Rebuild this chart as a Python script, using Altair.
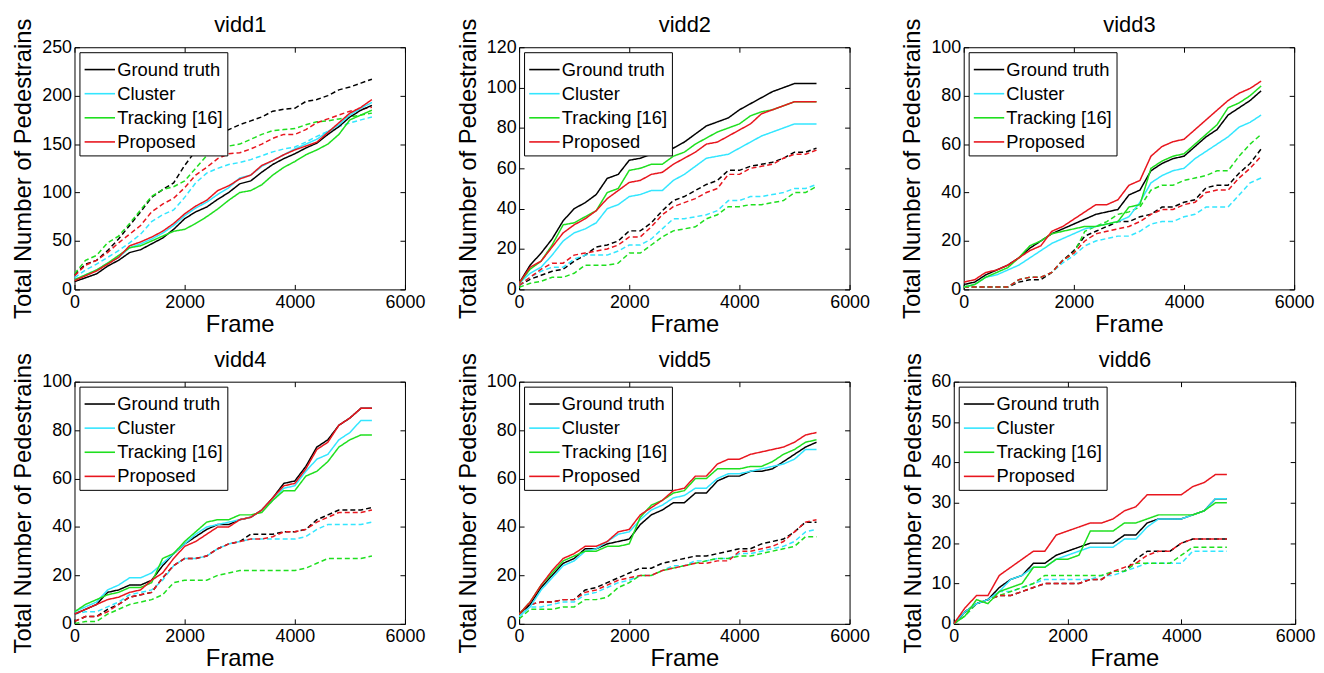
import altair as alt
import pandas as pd

FRAMES = list(range(0, 5401, 200))
FRAMES6 = list(range(0, 4801, 200))
METHODS = ["Ground truth", "Cluster", "Tracking [16]", "Proposed"]
COLORS = ["#000000", "#33e6ff", "#1fdf1f", "#e8161e"]
X_TICKS = [0, 2000, 4000, 6000]

# ---- vidd1 ----
vidd1_gt = [8,12,16,24,30,38,41,47,53,62,73,80,85,93,100,109,112,121,129,135,140,146,151,160,168,178,185,190]
vidd1_cl = [10,15,20,27,33,43,47,52,58,66,76,84,90,98,105,115,118,127,133,139,145,150,155,163,170,180,187,193]
vidd1_tr = [10,15,20,27,35,43,45,50,55,60,62,68,75,83,92,100,102,108,118,126,132,139,144,150,160,175,180,185]
vidd1_pr = [9,14,19,26,33,45,49,54,60,68,78,86,92,102,107,114,118,128,133,139,144,148,152,162,172,182,188,196]
vidd1_gt_d = [15,26,30,40,52,66,80,95,103,110,128,143,155,160,165,170,174,178,184,186,187,194,196,200,206,209,213,217]
vidd1_cl_d = [12,20,26,33,40,48,57,70,77,82,95,110,120,125,129,131,134,138,142,145,147,152,158,163,168,172,175,178]
vidd1_tr_d = [16,30,35,48,55,68,82,96,103,106,112,125,138,145,148,150,155,160,164,165,166,170,173,174,176,178,180,182]
vidd1_pr_d = [14,25,30,38,48,57,66,80,88,94,105,118,126,135,140,141,145,150,156,160,160,165,172,176,180,184,186,188]

# ---- vidd2 ----
vidd2_gt = [3,12,18,25,34,40,43,47,55,57,64,65,67,67,70,73,77,81,83,85,89,92,95,98,100,102,102,102]
vidd2_cl = [3,8,11,17,24,28,30,33,40,42,46,47,49,49,54,57,61,65,66,67,70,73,76,78,80,82,82,82]
vidd2_tr = [3,10,14,22,32,33,36,39,48,50,59,60,62,62,66,68,72,75,78,80,82,86,88,89,91,93,93,93]
vidd2_pr = [3,11,14,21,28,32,35,39,45,49,53,54,57,58,62,65,68,72,73,76,79,82,87,89,91,93,93,93]
vidd2_gt_d = [2,5,7,9,10,14,17,21,22,24,29,29,33,39,44,46,49,52,54,59,59,61,62,63,65,68,68,70]
vidd2_cl_d = [2,6,9,11,11,15,17,17,17,19,22,22,25,30,35,35,36,37,39,44,44,46,46,47,48,50,50,52]
vidd2_tr_d = [1,3,4,6,6,8,12,12,12,13,18,18,22,26,29,30,31,35,37,41,41,42,42,43,44,48,48,51]
vidd2_pr_d = [2,6,10,13,13,17,18,19,20,22,26,26,31,37,41,43,45,48,50,57,57,60,61,62,65,67,67,69]

# ---- vidd3 ----
vidd3_gt = [2,3,6,8,10,13,17,20,23,25,27,29,31,32,33,39,41,49,52,54,55,59,63,66,72,75,78,82]
vidd3_cl = [1,2,5,6,8,10,13,16,19,21,23,25,26,27,28,30,36,44,47,49,50,54,57,60,63,67,69,72]
vidd3_tr = [1,2,5,7,9,13,18,20,23,24,25,26,26,27,28,34,35,50,53,55,56,60,64,68,75,77,80,84]
vidd3_pr = [3,4,7,8,10,13,16,18,24,26,29,32,35,35,37,43,45,55,59,61,62,66,70,74,78,81,83,86]
vidd3_gt_d = [1,1,1,1,1,3,4,4,7,12,16,22,24,26,28,28,30,31,34,34,36,37,42,43,43,48,52,58]
vidd3_cl_d = [1,1,1,1,1,4,5,5,7,11,14,18,20,21,22,22,24,27,28,28,30,31,34,34,34,39,44,46]
vidd3_tr_d = [1,1,1,1,1,4,5,5,7,12,15,24,26,28,31,32,34,41,43,43,45,46,47,49,49,55,60,64]
vidd3_pr_d = [1,1,1,1,1,4,5,5,7,12,15,20,23,24,25,26,28,31,33,33,35,36,40,41,41,46,50,55]

# ---- vidd4 ----
vidd4_gt = [4,6,8,13,14,16,16,18,24,29,33,36,39,41,41,43,44,47,52,58,59,65,73,76,82,85,89,89]
vidd4_cl = [5,7,9,14,16,19,19,21,25,29,33,37,40,41,42,43,44,47,51,56,57,63,68,70,76,79,84,84]
vidd4_tr = [5,8,10,12,13,15,15,17,27,29,34,38,42,43,43,45,45,46,51,55,55,61,63,67,73,76,78,78]
vidd4_pr = [4,6,8,10,11,13,14,18,21,27,32,34,37,40,40,43,44,47,52,57,58,64,72,75,82,85,89,89]
vidd4_gt_d = [1,3,3,6,8,11,12,13,19,24,27,27,28,31,33,34,37,37,37,38,38,39,43,45,47,47,47,48]
vidd4_cl_d = [4,5,5,7,9,12,13,14,18,24,27,27,28,31,33,34,35,35,35,35,35,36,39,41,41,41,41,42]
vidd4_tr_d = [0,1,1,4,6,8,9,10,12,17,18,18,18,20,21,22,22,22,22,22,22,23,25,27,27,27,27,28]
vidd4_pr_d = [1,3,3,5,8,11,12,13,19,24,27,27,28,31,33,34,35,35,36,38,38,39,42,44,46,46,46,47]

# ---- vidd5 ----
vidd5_gt = [4,8,15,20,25,27,31,31,33,34,35,41,45,47,50,50,54,54,59,61,61,63,63,64,67,70,73,75]
vidd5_cl = [3,7,14,19,24,26,30,31,34,37,38,43,47,49,52,53,56,56,60,62,62,63,64,65,66,68,72,72]
vidd5_tr = [4,9,16,21,26,28,30,30,32,32,33,44,49,51,54,55,60,60,64,64,64,65,65,67,70,72,75,76]
vidd5_pr = [4,9,16,22,27,29,32,32,34,38,39,45,48,51,55,56,61,61,66,68,68,70,71,72,73,75,78,79]
vidd5_gt_d = [4,8,9,9,10,10,14,15,17,19,21,23,23,25,26,27,28,28,29,30,31,31,33,34,35,38,42,42]
vidd5_cl_d = [3,7,7,8,9,9,12,13,15,17,18,20,20,22,24,24,26,26,27,27,29,29,30,31,32,34,38,39]
vidd5_tr_d = [2,6,6,6,7,7,10,10,11,15,17,20,20,22,23,24,25,26,27,27,28,28,29,30,31,32,36,36]
vidd5_pr_d = [4,8,9,9,10,10,13,14,16,18,19,20,20,22,23,24,25,25,26,26,30,30,31,32,34,38,42,43]

# ---- vidd6 ----
vidd6_gt = [0,3,5,6,9,11,12,15,15,17,18,19,20,20,20,22,22,25,26,26,26,27,28,31,31]
vidd6_cl = [0,3,5,6,8,11,12,14,14,16,17,18,19,19,19,21,21,24,26,26,26,27,28,31,31]
vidd6_tr = [0,2,6,5,8,9,10,14,14,16,16,17,23,23,23,25,25,26,27,27,27,27,28,30,30]
vidd6_pr = [0,4,7,7,12,14,16,18,18,22,23,24,25,25,26,28,29,32,32,32,32,34,35,37,37]
vidd6_gt_d = [0,3,5,6,7,7,8,9,10,10,10,10,11,11,13,13,16,18,18,18,20,21,21,21,21]
vidd6_cl_d = [0,2,5,6,8,8,9,10,11,11,11,11,11,12,12,13,14,15,15,15,15,18,18,18,18]
vidd6_tr_d = [0,2,5,6,7,8,9,10,12,12,12,12,12,12,13,13,15,15,15,15,17,19,19,19,19]
vidd6_pr_d = [0,3,5,6,7,7,8,9,10,10,10,10,11,11,13,14,15,17,18,18,20,21,21,21,21]

FONT = "Liberation Sans"
PLOT_H = 244


def panel(title, frames, solid, dashed, ymax, ystep, width):
    rows = []
    for kind, group in (("dashed", dashed), ("solid", solid)):
        for m, vals in zip(METHODS, group):
            for f, v in zip(frames, vals):
                rows.append({"frame": f, "count": v, "method": m, "kind": kind})
    df = pd.DataFrame(rows)
    yvals = list(range(0, ymax + 1, ystep))
    xs = alt.Scale(domain=[0, 6000], nice=False, zero=False)
    ys = alt.Scale(domain=[0, ymax], nice=False, zero=False)

    lines = alt.Chart(df).mark_line(strokeWidth=1.5, clip=True).encode(
        x=alt.X("frame:Q", scale=xs,
                axis=alt.Axis(values=X_TICKS, title="Frame", offset=-5, tickSize=5,
                              domain=False, grid=False, labelPadding=4, titlePadding=1,
                              labelFlush=False, labelOverlap=False, format="d",
                              labelFont=FONT, titleFont=FONT, labelFontSize=18,
                              titleFontSize=24, titleFontWeight="normal",
                              labelColor="black", titleColor="black", tickColor="black")),
        y=alt.Y("count:Q", scale=ys,
                axis=alt.Axis(values=yvals, title="Total Number of Pedestrains", offset=-5,
                              tickSize=5, domain=False, grid=False, labelPadding=3,
                              titlePadding=6, labelFlush=False, labelOverlap=False, format="d",
                              labelFont=FONT, titleFont=FONT, labelFontSize=18,
                              titleFontSize=24, titleFontWeight="normal",
                              labelColor="black", titleColor="black", tickColor="black")),
        color=alt.Color("method:N", scale=alt.Scale(domain=METHODS, range=COLORS),
                        legend=alt.Legend(orient="top-left", offset=5, padding=4,
                                          strokeColor="black", fillColor="white",
                                          title=None, labelFontSize=18.5, labelFont=FONT,
                                          labelColor="black", symbolType="M-1.25,0H1.25",
                                          symbolSize=600, symbolStrokeWidth=1.6,
                                          symbolOffset=3, labelOffset=4, rowPadding=1.3,
                                          labelLimit=0, cornerRadius=0)),
        strokeDash=alt.StrokeDash("kind:N",
                                  scale=alt.Scale(domain=["solid", "dashed"], range=[[1, 0], [5, 3]]),
                                  legend=None),
    )

    box = alt.Chart(df).mark_line(strokeOpacity=0).encode(
        x=alt.X("frame:Q", scale=xs,
                axis=alt.Axis(orient="top", values=X_TICKS, labels=False, title=title,
                              titleFont=FONT, titleFontSize=22, titleFontWeight="normal",
                              titleColor="black", titlePadding=10,
                              offset=-5, tickSize=5, domain=False, grid=False,
                              tickColor="black")),
        y=alt.Y("count:Q", scale=ys,
                axis=alt.Axis(orient="right", values=yvals, labels=False, title=None,
                              offset=-5, tickSize=5, domain=False, grid=False,
                              tickColor="black")),
    )

    return alt.layer(lines, box).resolve_axis(x="independent", y="independent").properties(
        width=width, height=PLOT_H,
    )


p1 = panel("vidd1", FRAMES, [vidd1_gt, vidd1_cl, vidd1_tr, vidd1_pr],
           [vidd1_gt_d, vidd1_cl_d, vidd1_tr_d, vidd1_pr_d], 250, 50, 333)
p2 = panel("vidd2", FRAMES, [vidd2_gt, vidd2_cl, vidd2_tr, vidd2_pr],
           [vidd2_gt_d, vidd2_cl_d, vidd2_tr_d, vidd2_pr_d], 120, 20, 333)
p3 = panel("vidd3", FRAMES, [vidd3_gt, vidd3_cl, vidd3_tr, vidd3_pr],
           [vidd3_gt_d, vidd3_cl_d, vidd3_tr_d, vidd3_pr_d], 100, 20, 333)
p4 = panel("vidd4", FRAMES, [vidd4_gt, vidd4_cl, vidd4_tr, vidd4_pr],
           [vidd4_gt_d, vidd4_cl_d, vidd4_tr_d, vidd4_pr_d], 100, 20, 333)
p5 = panel("vidd5", FRAMES, [vidd5_gt, vidd5_cl, vidd5_tr, vidd5_pr],
           [vidd5_gt_d, vidd5_cl_d, vidd5_tr_d, vidd5_pr_d], 100, 20, 333)
p6 = panel("vidd6", FRAMES6, [vidd6_gt, vidd6_cl, vidd6_tr, vidd6_pr],
           [vidd6_gt_d, vidd6_cl_d, vidd6_tr_d, vidd6_pr_d], 60, 10, 344)

row1 = alt.hconcat(p1, p2, p3, spacing=30).resolve_scale(color="independent").resolve_legend(color="independent")
row2 = alt.hconcat(p4, p5, p6, spacing=30).resolve_scale(color="independent").resolve_legend(color="independent")

chart = alt.vconcat(row1, row2, spacing=11).resolve_scale(color="independent").resolve_legend(
    color="independent"
).properties(
    padding={"left": 3, "top": 3, "right": 0, "bottom": 0},
    background="white",
).configure_view(
    stroke="black", strokeWidth=1
)

chart.save("out.html", embed_options={"renderer": "svg", "actions": False})
